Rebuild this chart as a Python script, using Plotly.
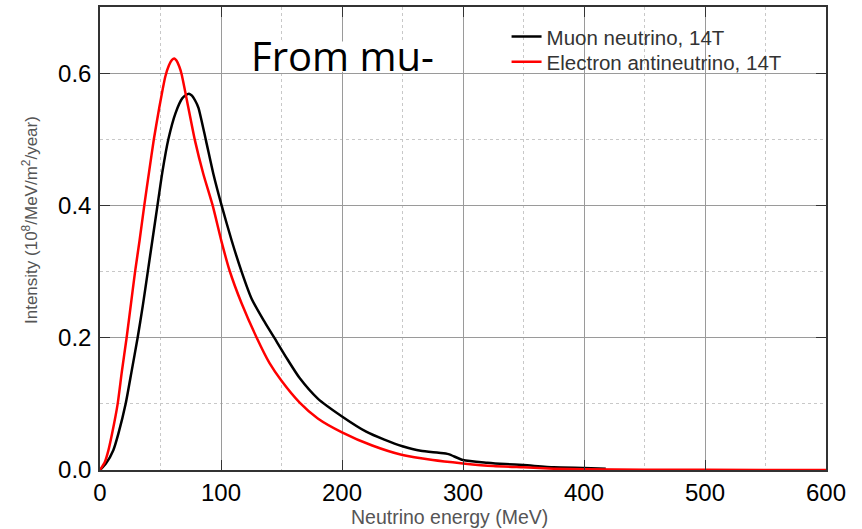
import plotly.graph_objects as go

# Electron antineutrino (red)
red_E = [0, 4, 7, 10, 14.6, 18, 22, 25.5, 29, 32.7, 36.6, 40.5, 44.5, 49, 54, 57, 59.5, 61.4,
         63.2, 65.5, 67.5, 73, 78.5, 85.4, 93.1, 100.5, 107, 117, 129.5, 140, 150, 165, 180, 200,
         225, 250, 275, 300, 325, 350, 375, 400, 450, 500, 600]
red_I = [0, 0.012, 0.03, 0.055, 0.1, 0.148, 0.2, 0.25, 0.3, 0.347, 0.4, 0.45, 0.5, 0.548, 0.595,
         0.612, 0.62, 0.622, 0.619, 0.61, 0.598, 0.548, 0.498, 0.4475, 0.4, 0.345, 0.302, 0.252,
         0.2, 0.162, 0.135, 0.102, 0.078, 0.057, 0.037, 0.0226, 0.015, 0.010, 0.006, 0.004,
         0.002, 0.001, 0.0005, 0.0002, 0.0]

# Muon neutrino (black)
blk_E = [0, 5, 11, 15.2, 21.2, 26, 31.1, 35.5, 39.5, 43.5, 47.5, 51.5, 56.5, 62.5, 68, 71, 73.5,
         76, 78.5, 81.3, 87.6, 93.7, 100.5, 108.8, 117, 125.3, 135, 144, 155, 165, 180, 200, 220,
         235, 250, 265, 280, 288, 300, 320, 335, 350, 375, 400, 418]
blk_I = [0, 0.01, 0.03, 0.055, 0.1, 0.148, 0.2, 0.25, 0.3, 0.35, 0.4, 0.45, 0.5, 0.54, 0.562,
         0.567, 0.569, 0.566, 0.559, 0.548, 0.498, 0.4475, 0.4, 0.347, 0.3, 0.259, 0.227, 0.2,
         0.167, 0.139, 0.108, 0.081, 0.058, 0.046, 0.036, 0.029, 0.026, 0.024, 0.015, 0.011,
         0.009, 0.0075, 0.004, 0.003, 0.002]

FONT = "Liberation Sans, Arial, sans-serif"

fig = go.Figure()
fig.add_trace(go.Scatter(x=blk_E, y=blk_I, mode="lines", name="Muon neutrino, 14T",
                         line=dict(color="black", width=2.5, shape="spline", smoothing=0.6),
                         legend="legend"))
fig.add_trace(go.Scatter(x=red_E, y=red_I, mode="lines", name="Electron antineutrino, 14T",
                         line=dict(color="#ff0000", width=2.5, shape="spline", smoothing=0.6),
                         legend="legend2"))

axis_common = dict(
    showline=True, linecolor="#333", linewidth=1.5, mirror="ticks",
    ticks="inside", ticklen=10, tickcolor="#333", tickwidth=1,
    showgrid=True, gridcolor="#9a9a9a", gridwidth=1,
    zeroline=False,
    tickfont=dict(family=FONT, size=24, color="black"),
)

fig.update_xaxes(
    range=[0, 600], dtick=100, tick0=0,
    minor=dict(dtick=50, showgrid=True, gridcolor="#c8c8c8", griddash="dot", ticks=""),
    **axis_common,
)
fig.update_yaxes(
    range=[0, 0.7], dtick=0.2, tick0=0, tickformat=".1f", ticklabelstandoff=2,
    minor=dict(dtick=0.1, showgrid=True, gridcolor="#c8c8c8", griddash="dot", ticks=""),
    **axis_common,
)

# axis titles
fig.add_annotation(x=0.482, y=-0.101, xref="paper", yref="paper",
                   text="Neutrino energy (MeV)", showarrow=False,
                   font=dict(family=FONT, size=19.5, color="#555"),
                   xanchor="center", yanchor="middle")
fig.add_annotation(x=-0.0964, y=0.54, xref="paper", yref="paper", textangle=-90,
                   text="Intensity (10<sup>8</sup>/MeV/m<sup>2</sup>/year)", showarrow=False,
                   font=dict(family=FONT, size=17, color="#555"),
                   xanchor="center", yanchor="middle")

fig.add_shape(type="rect", xref="x", yref="y", x0=122, x1=278, y0=0.602, y1=0.648,
              fillcolor="white", line=dict(width=0), layer="above")
fig.add_annotation(x=200, y=0.626, xref="x", yref="y", text="From mu-", showarrow=False,
                   font=dict(family="Open Sans, sans-serif", size=40, color="black"),
                   xanchor="center", yanchor="middle")

leg_common = dict(xanchor="left", yanchor="top", bgcolor="rgba(255,255,255,0)", borderwidth=0,
                  font=dict(family=FONT, size=20.5, color="#333"))

fig.update_layout(
    width=862, height=529,
    margin=dict(l=100, r=36, t=5, b=59),
    paper_bgcolor="white", plot_bgcolor="white",
    showlegend=True,
    legend=dict(x=0.56, y=0.979, **leg_common),
    legend2=dict(x=0.56, y=0.9246, **leg_common),
)

fig.write_html("out.html")
